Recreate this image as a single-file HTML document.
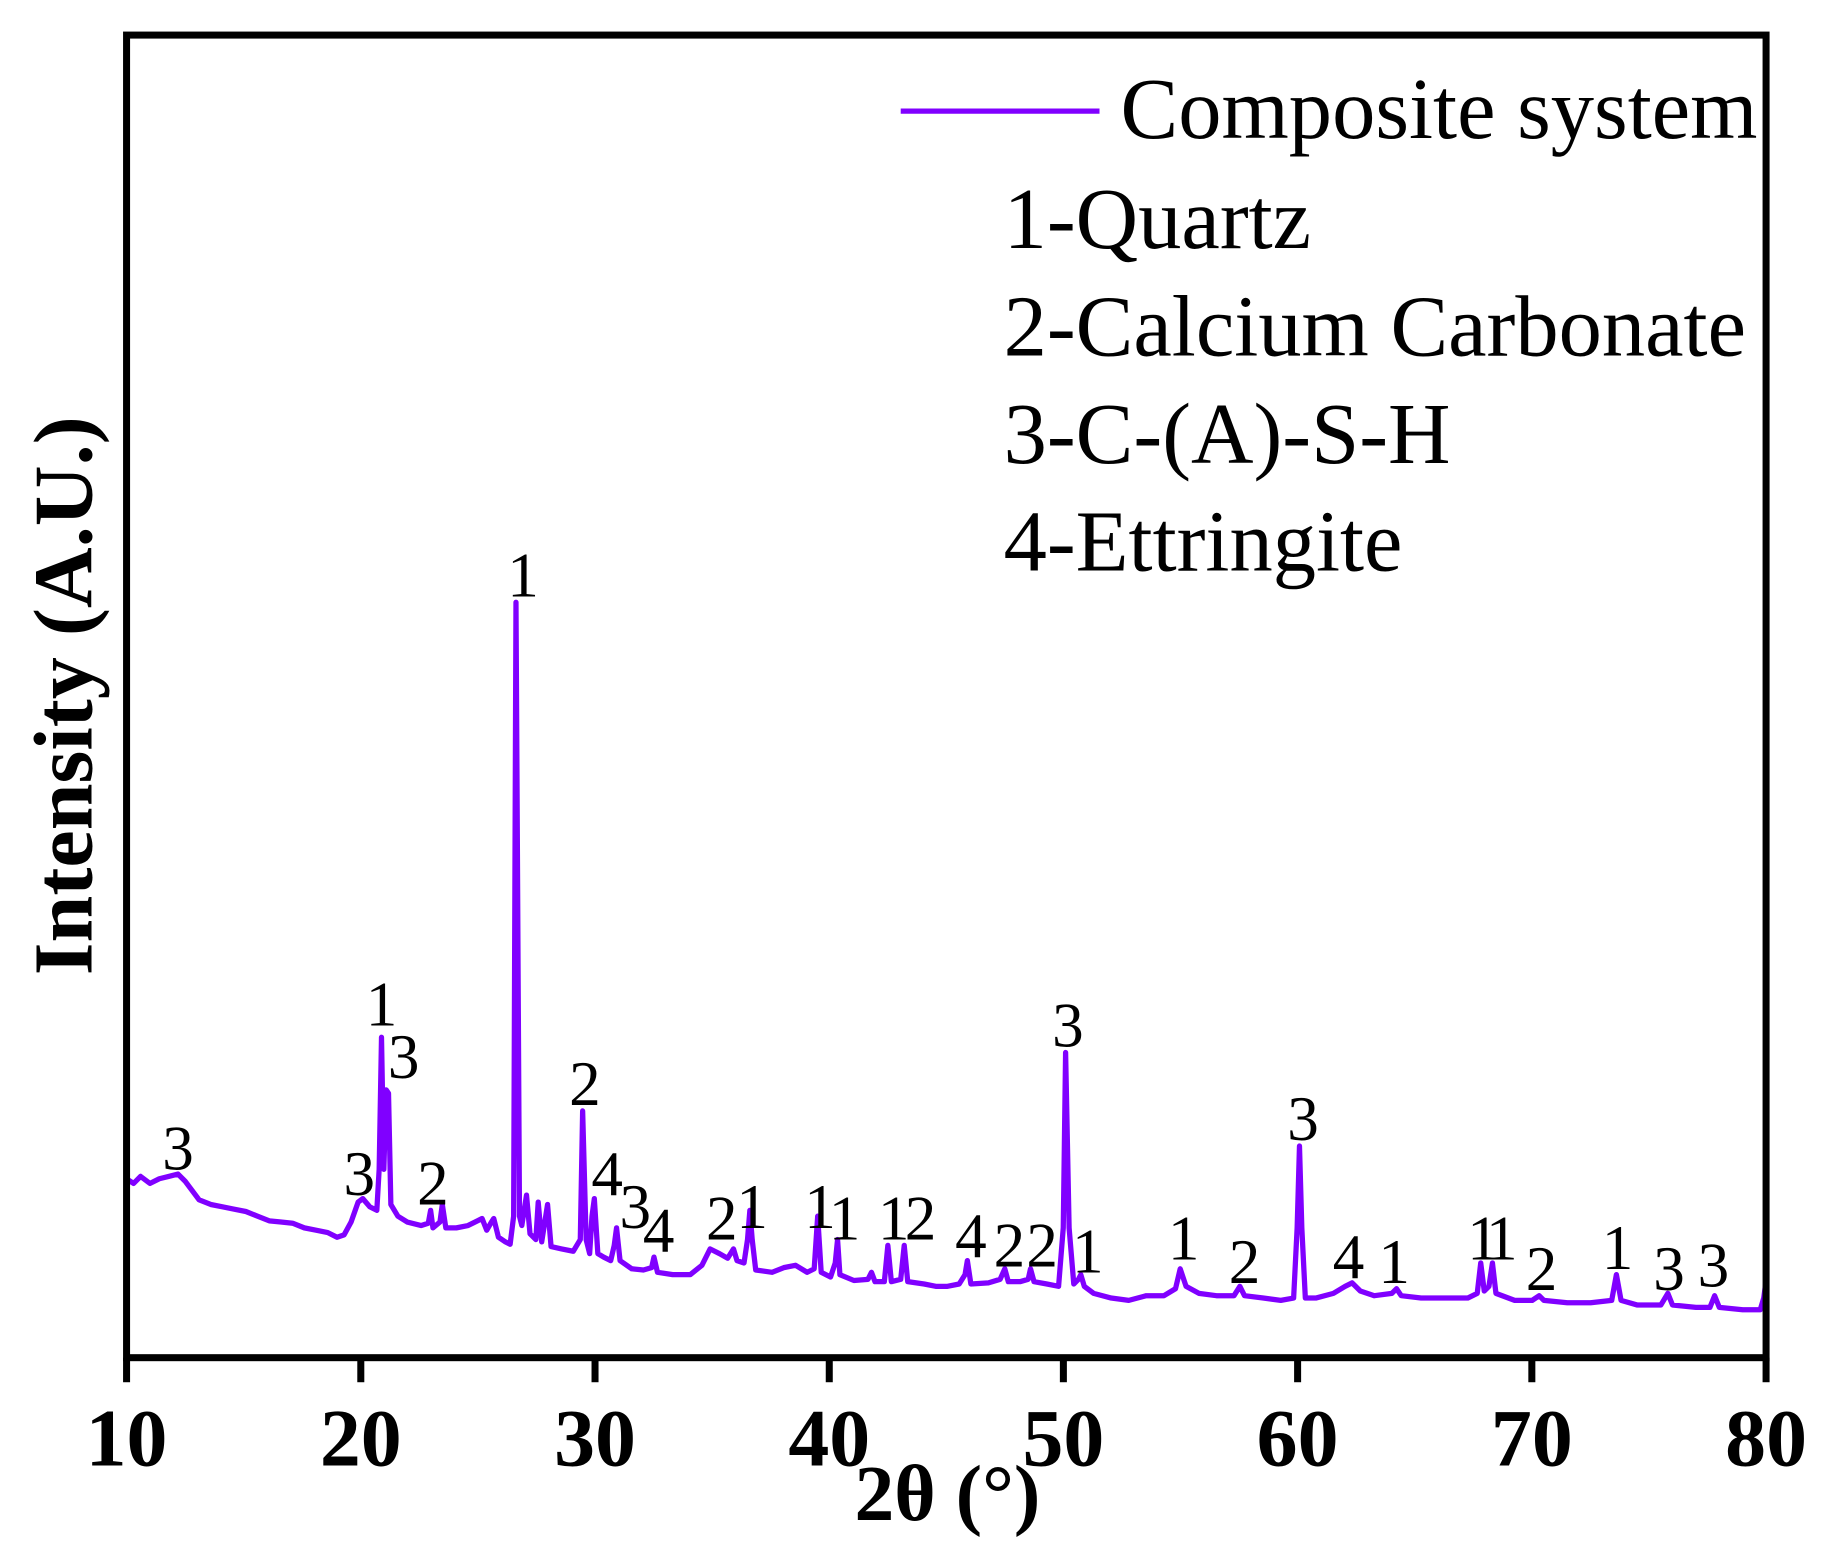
<!DOCTYPE html>
<html><head><meta charset="utf-8"><style>
html,body{margin:0;padding:0;background:#fff;}
svg{display:block;}
text{font-family:"Liberation Serif",serif;}
</style></head><body>
<svg width="1833" height="1567" viewBox="0 0 1567 1340" xmlns="http://www.w3.org/2000/svg">
<rect width="1567" height="1340" fill="#fff"/>
<path fill="none" stroke="#8000ff" stroke-width="4.5" stroke-linejoin="round" d="M108,1008 L114,1012 L120,1006 L128,1012 L136,1008 L144,1006 L152,1004 L158,1010 L164,1018 L170,1026 L180,1030 L190,1032 L200,1034 L210,1036 L220,1040 L230,1044 L240,1045 L250,1046 L260,1050 L270,1052 L280,1054 L288,1058 L294,1056 L300,1045 L306,1028 L310,1025 L316,1032 L322,1035 L324,1000 L326,887 L328,1000 L330,932 L332,935 L334,1030 L340,1040 L348,1045 L360,1048 L366,1046 L368,1035 L370,1050 L376,1045 L378,1030 L381,1050 L390,1050 L400,1048 L408,1044 L412,1042 L416,1052 L420,1045 L422,1042 L426,1058 L432,1062 L436,1064 L439,1040 L441,515 L444,1040 L446,1048 L450,1022 L453,1055 L458,1060 L460,1028 L463,1062 L468,1030 L471,1066 L480,1068 L490,1070 L496,1060 L498,950 L501,1060 L504,1072 L506,1040 L508,1025 L511,1072 L516,1075 L522,1078 L525,1065 L527,1050 L530,1078 L540,1085 L550,1086 L557,1084 L559,1075 L562,1088 L575,1090 L590,1090 L600,1082 L607,1068 L615,1072 L622,1076 L627,1068 L630,1078 L636,1080 L639,1060 L641,1035 L643,1060 L646,1086 L660,1088 L670,1084 L680,1082 L690,1088 L696,1085 L699,1040 L702,1088 L710,1092 L714,1080 L716,1060 L718,1090 L730,1095 L742,1094 L745,1088 L748,1096 L756,1096 L759,1065 L762,1096 L770,1094 L773,1065 L776,1096 L790,1098 L800,1100 L810,1100 L820,1098 L825,1090 L827,1078 L830,1098 L845,1097 L855,1094 L859,1085 L862,1096 L872,1096 L879,1094 L881,1085 L884,1096 L895,1098 L905,1100 L909,1050 L911,900 L914,1050 L918,1098 L922,1094 L924,1090 L927,1100 L935,1106 L950,1110 L965,1112 L980,1108 L995,1108 L1005,1102 L1009,1085 L1014,1100 L1025,1106 L1040,1108 L1055,1108 L1060,1100 L1064,1108 L1080,1110 L1095,1112 L1106,1110 L1109,1050 L1111,980 L1113,1050 L1116,1110 L1125,1110 L1140,1106 L1150,1100 L1156,1097 L1163,1104 L1175,1108 L1190,1106 L1194,1102 L1198,1108 L1215,1110 L1235,1110 L1255,1110 L1263,1106 L1266,1080 L1269,1104 L1273,1100 L1276,1080 L1279,1106 L1295,1112 L1310,1112 L1316,1108 L1320,1112 L1340,1114 L1360,1114 L1378,1112 L1382,1090 L1386,1112 L1400,1116 L1420,1116 L1426,1106 L1430,1116 L1450,1118 L1462,1118 L1466,1108 L1470,1118 L1490,1120 L1505,1120 L1508,1110 L1510,1095"/>
<rect x="108" y="30" width="1402" height="1131" fill="none" stroke="#000" stroke-width="6"/>
<g stroke="#000" stroke-width="6">
<line x1="108" y1="1161" x2="108" y2="1182"/><line x1="308.3" y1="1161" x2="308.3" y2="1182"/>
<line x1="508.6" y1="1161" x2="508.6" y2="1182"/><line x1="708.9" y1="1161" x2="708.9" y2="1182"/>
<line x1="909.1" y1="1161" x2="909.1" y2="1182"/><line x1="1109.4" y1="1161" x2="1109.4" y2="1182"/>
<line x1="1309.7" y1="1161" x2="1309.7" y2="1182"/><line x1="1510" y1="1161" x2="1510" y2="1182"/>
</g>
<g font-size="70" font-weight="bold" text-anchor="middle">
<text x="108" y="1253">10</text><text x="308.3" y="1253">20</text><text x="508.6" y="1253">30</text>
<text x="708.9" y="1253">40</text><text x="909.1" y="1253">50</text><text x="1109.4" y="1253">60</text>
<text x="1309.7" y="1253">70</text><text x="1510" y="1253">80</text>
<text x="810" y="1300" font-size="68">2θ (°)</text>
<text transform="translate(78,595) rotate(-90)" font-size="72">Intensity (A.U.)</text>
</g>
<line x1="770" y1="95" x2="940" y2="95" stroke="#8000ff" stroke-width="4.5"/>
<g font-size="74">
<text x="958" y="118">Composite system</text>
<text x="858" y="212">1-Quartz</text>
<text x="858" y="304">2-Calcium Carbonate</text>
<text x="858" y="396">3-C-(A)-S-H</text>
<text x="858" y="488">4-Ettringite</text>
</g>
<g font-size="54" text-anchor="middle">
<text x="152" y="1000">3</text><text x="326" y="877">1</text><text x="345" y="922">3</text>
<text x="307" y="1022">3</text><text x="370" y="1030">2</text><text x="447" y="510">1</text>
<text x="500" y="945">2</text><text x="519" y="1022">4</text><text x="543" y="1050">3</text>
<text x="563" y="1070">4</text><text x="617" y="1060">2</text><text x="643" y="1050">1</text>
<text x="701" y="1050">1</text><text x="722" y="1060">1</text><text x="764" y="1060">1</text>
<text x="787" y="1060">2</text><text x="830" y="1075">4</text><text x="863" y="1083">2</text>
<text x="891" y="1083">2</text><text x="930" y="1088">1</text><text x="913" y="895">3</text>
<text x="1012" y="1077">1</text><text x="1064" y="1097">2</text><text x="1114" y="975">3</text>
<text x="1153" y="1093">4</text><text x="1192" y="1097">1</text><text x="1268" y="1077">1</text>
<text x="1284" y="1077">1</text><text x="1318" y="1103">2</text><text x="1383" y="1085">1</text>
<text x="1427" y="1103">3</text><text x="1465" y="1100">3</text>
</g>
</svg>
</body></html>
